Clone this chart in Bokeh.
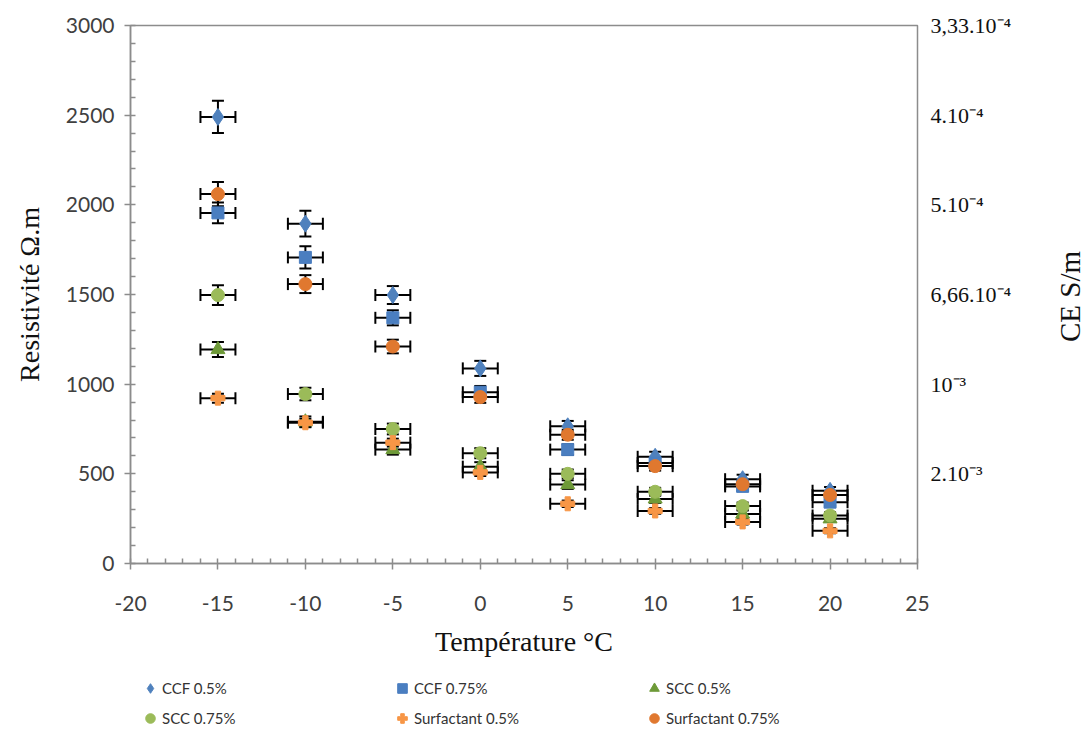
import math
from bokeh.plotting import figure
from bokeh.layouts import column, row
from bokeh.models import (ColumnDataSource, Whisker, TeeHead, LinearAxis, Range1d,
                          FixedTicker, Legend, LegendItem)
from bokeh.core.properties import value
from bokeh.embed import file_html
from bokeh.resources import INLINE

# ---------------- data ----------------
temperature = [-15, -10, -5, 0, 5, 10, 15, 20]
temperature_err = [1, 1, 1, 1, 1, 1, 1, 1]

ccf_05 = [2490, 1895, 1497, 1088, 765, 595, 470, 405]
ccf_075 = [1955, 1707, 1370, 955, 635, 560, 430, 342]
scc_05 = [1193, 790, 635, 540, 440, 360, 276, 249]
scc_075 = [1497, 945, 750, 615, 500, 400, 320, 268]
surf_05 = [922, 785, 674, 508, 333, 293, 232, 182]
surf_075 = [2060, 1558, 1210, 928, 718, 543, 442, 382]

ccf_05_err = [90, 72, 50, 42, 30, 28, 25, 22]
ccf_075_err = [58, 62, 42, 35, 30, 28, 25, 22]
scc_05_err = [42, 30, 28, 25, 24, 22, 20, 18]
scc_075_err = [55, 35, 30, 28, 24, 22, 20, 18]
surf_05_err = [25, 22, 22, 20, 18, 16, 15, 14]
surf_075_err = [68, 50, 38, 32, 28, 25, 22, 20]

series_names = ["CCF 0.5%", "CCF 0.75%", "SCC 0.5%", "SCC 0.75%",
                "Surfactant 0.5%", "Surfactant 0.75%"]
series_values = [ccf_05, ccf_075, scc_05, scc_075, surf_05, surf_075]
series_errors = [ccf_05_err, ccf_075_err, scc_05_err, scc_075_err, surf_05_err, surf_075_err]
series_markers = ["diamond", "square", "triangle", "circle", "plus", "circle"]
series_colors = ["#4F81BD", "#4A7EC0", "#6E9A38", "#9BBB59", "#F79646", "#E0782F"]
series_sizes = [17, 12, 14, 13, 14, 13]

x_ticks = [-20, -15, -10, -5, 0, 5, 10, 15, 20, 25]
x_tick_labels = ["-20", "-15", "-10", "-5", "0", "5", "10", "15", "20", "25"]
y_ticks = [0, 500, 1000, 1500, 2000, 2500, 3000]
right_ticks = [500, 1000, 1500, 2000, 2500, 3000]
right_labels = ["2.10\u207b\u00b3", "10\u207b\u00b3", "6,66.10\u207b\u2074",
                "5.10\u207b\u2074", "4.10\u207b\u2074", "3,33.10\u207b\u2074"]
right_title = "CE S/m"

MAIN_W = 1050
MAIN_H = 670

# ---------------- figure ----------------
p = figure(width=MAIN_W, height=MAIN_H, output_backend="svg", toolbar_location=None,
           x_range=Range1d(-20, 25), y_range=Range1d(0, 3000),
           min_border_left=130, min_border_right=MAIN_W - 917, min_border_top=25,
           min_border_bottom=MAIN_H - 563)
p.grid.visible = False
p.outline_line_color = "#8C8C8C"
p.outline_line_width = 1.5
p.background_fill_color = "white"
p.border_fill_color = "white"

axis_gray = "#8C8C8C"
tick_font = "Lato"
for ax in (p.xaxis[0], p.yaxis[0]):
    ax.axis_line_color = axis_gray
    ax.axis_line_width = 1.5
    ax.major_tick_line_color = axis_gray
    ax.major_tick_line_width = 1.5
    ax.minor_tick_line_color = axis_gray
    ax.minor_tick_line_width = 1.5
    ax.major_tick_out = 6
    ax.major_tick_in = 0
    ax.minor_tick_out = 0
    ax.minor_tick_in = 5
    ax.major_label_text_font = tick_font
    ax.major_label_text_font_size = "21px"
    ax.major_label_text_color = "#404040"
    ax.axis_label_text_font = "Liberation Serif"
    ax.axis_label_text_font_style = "normal"
    ax.axis_label_text_font_size = "28px"
    ax.axis_label_text_color = "#111111"

p.xaxis.ticker = FixedTicker(ticks=x_ticks, minor_ticks=list(range(-20, 26)))
p.xaxis.major_label_overrides = {t: l for t, l in zip(x_ticks, x_tick_labels)}
p.yaxis.ticker = FixedTicker(ticks=y_ticks, minor_ticks=list(range(0, 3001, 100)))
p.xaxis.axis_label = "Température °C"
p.yaxis.axis_label = "Resistivité Ω.m"
p.xaxis.major_label_standoff = 26
p.xaxis.axis_label_standoff = 12
p.yaxis.major_label_standoff = 10
p.yaxis.axis_label_standoff = 18

right = LinearAxis(ticker=FixedTicker(ticks=right_ticks, minor_ticks=[]),
                   major_label_overrides={t: l for t, l in zip(right_ticks, right_labels)})
right.axis_line_color = None
right.major_tick_line_color = None
right.minor_tick_line_color = None
right.major_label_standoff = 7
right.major_label_text_font = "Liberation Serif"
right.major_label_text_font_size = "22px"
right.major_label_text_color = "#111111"
p.add_layout(right, "right")

# ---------------- error bars ----------------
for vals, errs in zip(series_values, series_errors):
    src = ColumnDataSource(dict(
        x=temperature, y=vals,
        ylo=[v - e for v, e in zip(vals, errs)], yhi=[v + e for v, e in zip(vals, errs)],
        xlo=[t - e for t, e in zip(temperature, temperature_err)],
        xhi=[t + e for t, e in zip(temperature, temperature_err)]))
    wy = Whisker(source=src, base="x", lower="ylo", upper="yhi", dimension="height",
                 line_color="black", line_width=2,
                 upper_head=TeeHead(size=12, line_color="black", line_width=2),
                 lower_head=TeeHead(size=12, line_color="black", line_width=2))
    wx = Whisker(source=src, base="y", lower="xlo", upper="xhi", dimension="width",
                 line_color="black", line_width=2,
                 upper_head=TeeHead(size=12, line_color="black", line_width=2),
                 lower_head=TeeHead(size=12, line_color="black", line_width=2))
    wy.level = "glyph"
    wx.level = "glyph"
    p.add_layout(wy)
    p.add_layout(wx)

# ---------------- markers ----------------
for name, vals, mk, col, sz in zip(series_names, series_values, series_markers,
                                   series_colors, series_sizes):
    src = ColumnDataSource(dict(x=temperature, y=vals))
    r = p.scatter("x", "y", source=src, marker=mk, size=sz, fill_color=col,
                  line_color=col, line_width=1)
    r.level = "overlay"

# ---------------- legend (separate strip under the chart) ----------------
LEG_H = 731 - MAIN_H
lg = figure(width=MAIN_W, height=LEG_H, output_backend="svg", toolbar_location=None,
            x_axis_location=None, y_axis_location=None, min_border=0,
            x_range=Range1d(0, 1), y_range=Range1d(0, 1))
lg.grid.visible = False
lg.outline_line_color = None
items = []
for name, vals, mk, col, sz in zip(series_names, series_values, series_markers,
                                   series_colors, series_sizes):
    src = ColumnDataSource(dict(x=temperature, y=vals))
    r = lg.scatter("x", "y", source=src, marker=mk, size=sz, fill_color=col,
                   line_color=col, line_width=1, visible=False)
    items.append(LegendItem(label=name, renderers=[r]))

legend = Legend(items=items, location=(8, 0), orientation="horizontal", ncols=3,
                label_text_font=tick_font, label_text_font_size="15px",
                label_text_color="#333333", glyph_width=24, glyph_height=26,
                label_height=26, label_width=224, label_standoff=0, spacing=4,
                padding=0, margin=0, border_line_color=None,
                background_fill_alpha=0)
lg.add_layout(legend, "center")

# ---------------- right-hand axis title strip ----------------
RT_W = 1089 - MAIN_W
rt = figure(width=RT_W, height=731, output_backend="svg", toolbar_location=None,
            x_axis_location=None, y_axis_location=None, min_border=0,
            x_range=Range1d(0, RT_W), y_range=Range1d(0, 731))
rt.grid.visible = False
rt.outline_line_color = None
rt.text(x=[1069 - MAIN_W], y=[731 - 296], text=[right_title], angle=math.pi / 2,
        text_align="center", text_baseline="middle",
        text_font=value("Liberation Serif"), text_font_size="29px",
        text_color="#111111")

layout = row(column(p, lg, spacing=0), rt, spacing=0)
open("out.html", "w").write(file_html(layout, INLINE))
